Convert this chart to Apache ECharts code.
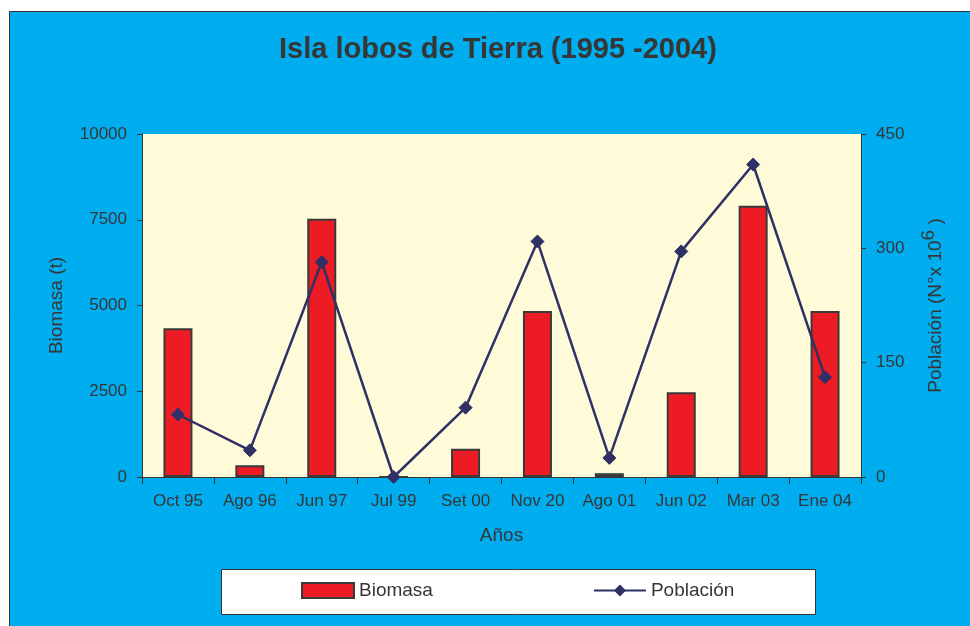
<!DOCTYPE html>
<html>
<head>
<meta charset="utf-8">
<script src="https://cdn.jsdelivr.net/npm/echarts@6/dist/echarts.min.js"></script>
<style>
  html, body { margin: 0; padding: 0; background: #fff; }
  #main { width: 970px; height: 626px; }
</style>
</head>
<body>
<div id="main"></div>
<script>
// datos
var categorias = ['Oct 95', 'Ago 96', 'Jun 97', 'Jul 99', 'Set 00', 'Nov 20', 'Ago 01', 'Jun 02', 'Mar 03', 'Ene 04'];
var biomasa = [4340, 340, 7530, 0, 825, 4840, 110, 2470, 7910, 4840];
var poblacion = [82, 35, 282, 0, 91, 309, 25, 296, 410, 131];

var textColor = '#363636';
var fuente = 'Liberation Sans, Arial, sans-serif';

var myChart = echarts.init(document.getElementById('main'));

myChart.setOption({
  textStyle: { fontFamily: fuente },
  graphic: [
    {
      // fondo azul con borde
      type: 'rect',
      z: -10,
      shape: { x: 9.5, y: 11.5, width: 980, height: 640 },
      style: { fill: '#00ADEE', stroke: '#333', lineWidth: 1 }
    },
    {
      // caja de la leyenda
      type: 'rect',
      z: -5,
      shape: { x: 221.5, y: 569.5, width: 594, height: 45 },
      style: { fill: '#fff', stroke: '#333', lineWidth: 1 }
    }
  ],
  title: {
    text: 'Isla lobos de Tierra (1995 -2004)',
    left: 274,
    top: 30,
    textStyle: { fontSize: 29, fontWeight: 'bold', color: textColor, fontFamily: fuente }
  },
  legend: {
    left: 301,
    top: 581,
    itemWidth: 52,
    itemHeight: 15,
    itemGap: 160,
    padding: 0,
    textStyle: { fontSize: 19, color: textColor, fontFamily: fuente },
    data: [{ name: 'Biomasa', icon: 'rect' }, { name: 'Población' }]
  },
  grid: {
    left: 142,
    right: 109,
    top: 134,
    bottom: 149,
    show: true,
    backgroundColor: '#FFFAD8',
    borderWidth: 0
  },
  xAxis: {
    type: 'category',
    data: categorias,
    name: 'Años',
    nameLocation: 'middle',
    nameGap: 49,
    nameTextStyle: { fontSize: 19, color: textColor },
    axisLine: { lineStyle: { color: '#333', width: 1 } },
    axisTick: { show: true, length: 7, lineStyle: { color: '#333' } },
    axisLabel: { fontSize: 17, color: textColor, margin: 16 },
    splitLine: { show: false }
  },
  yAxis: [
    {
      type: 'value',
      min: 0,
      max: 10000,
      interval: 2500,
      name: 'Biomasa (t)',
      nameLocation: 'middle',
      nameRotate: 90,
      nameGap: 76,
      nameTextStyle: { fontSize: 19, color: textColor },
      axisLine: { show: true, lineStyle: { color: '#333', width: 1 } },
      axisTick: { show: true, length: 5, lineStyle: { color: '#333' } },
      axisLabel: {
        fontSize: 17,
        color: textColor,
        margin: 15,
        formatter: function (v) { return String(v); } // sin separador de miles
      },
      splitLine: { show: false }
    },
    {
      type: 'value',
      min: 0,
      max: 450,
      interval: 150,
      position: 'right',
      name: 'Población (N°x 10{sup|6} )',
      nameLocation: 'middle',
      nameRotate: 90,
      nameGap: 58,
      nameTextStyle: {
        fontSize: 19,
        color: textColor,
        rich: {
          sup: { fontSize: 19, color: textColor, padding: [0, 0, 14, 0] }
        }
      },
      axisLine: { show: true, lineStyle: { color: '#333', width: 1 } },
      axisTick: { show: true, length: 5, lineStyle: { color: '#333' } },
      axisLabel: { fontSize: 17, color: textColor, margin: 15 },
      splitLine: { show: false }
    }
  ],
  series: [
    {
      name: 'Biomasa',
      type: 'bar',
      yAxisIndex: 0,
      barWidth: 29,
      itemStyle: { color: '#ED1C24', borderColor: '#3a3a3a', borderWidth: 2 },
      data: biomasa
    },
    {
      name: 'Población',
      type: 'line',
      yAxisIndex: 1,
      symbol: 'diamond',
      symbolSize: 13,
      lineStyle: { color: '#2E3066', width: 2.5 },
      itemStyle: { color: '#2E3066', borderColor: '#2E3066' },
      data: poblacion
    }
  ]
});
</script>
</body>
</html>
